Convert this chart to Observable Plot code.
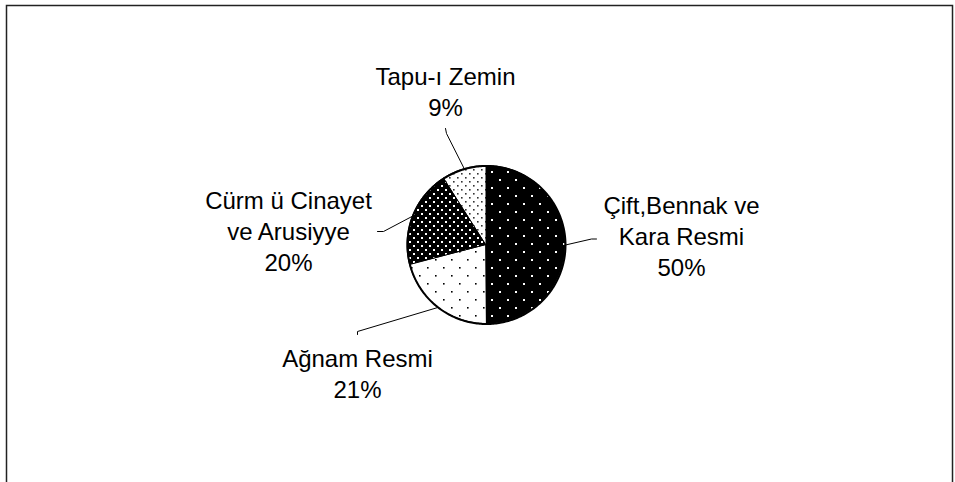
<!DOCTYPE html>
<html><head><meta charset="utf-8">
<script src="https://cdn.jsdelivr.net/npm/d3@7"></script>
<script src="https://cdn.jsdelivr.net/npm/@observablehq/plot@0.6"></script>
<style>body{margin:0;background:#fff}</style>
</head><body><div id="chart"></div>
<script>
// ---- data ----
const categories = ["Çift,Bennak ve\nKara Resmi", "Ağnam Resmi", "Cürm ü Cinayet\nve Arusiyye", "Tapu-ı Zemin"];
const values = [50, 21, 20, 9];
const percentLabels = ["50%", "21%", "20%", "9%"];

// ---- layout ----
const W = 955, H = 482, CX = 486, CY = 244.5, R = 79;
const fills = ["url(#pCift)", "url(#pAgnam)", "url(#pCurm)", "url(#pTapu)"];
const labelAnchor = [[195, 30.5], [-129, 152.5], [-198, 25.5], [-41, -129.5]];
const leaderKnee = [[105, -6], [-129, 86.5], [-103, -13.5], [-40, -111.5]];
const leaderEnd = [[110, -6], [-129, 89.5], [-109, -13.5], [-41, -116.5]];

const arcs = d3.pie().sort(null).value(d => d)(values);

const wedgePts = [];
arcs.forEach((a, i) => {
  const n = Math.max(2, Math.ceil((a.endAngle - a.startAngle) / 0.01) + 1);
  for (let k = 0; k < n; k++) {
    const t = a.startAngle + (a.endAngle - a.startAngle) * k / (n - 1);
    wedgePts.push({i, x: Math.sin(t), y: -Math.cos(t), fill: fills[i]});
  }
});
const circlePts = d3.range(0, 361).map(d => {
  const t = d * Math.PI / 180;
  return {x: Math.sin(t), y: -Math.cos(t)};
});
const leaderPts = [];
arcs.forEach((a, i) => {
  const m = (a.startAngle + a.endAngle) / 2;
  leaderPts.push({i, x: Math.sin(m), y: -Math.cos(m)});
  leaderPts.push({i, x: leaderKnee[i][0] / R, y: leaderKnee[i][1] / R});
  leaderPts.push({i, x: leaderEnd[i][0] / R, y: leaderEnd[i][1] / R});
});
const labels = categories.map((c, i) => ({
  text: c + "\n" + percentLabels[i],
  x: labelAnchor[i][0] / R,
  y: labelAnchor[i][1] / R
}));

const svg = Plot.plot({
  width: W, height: H,
  margin: 0,
  x: {domain: [-CX / R, (W - CX) / R], range: [0, W], axis: null},
  y: {domain: [-CY / R, (H - CY) / R], range: [0, H], axis: null},
  color: {type: "identity"},
  style: {background: "#fff"},
  marks: [
    Plot.frame({stroke: "#222", strokeWidth: 1.5, insetLeft: 6, insetTop: 5, insetRight: 3, insetBottom: -20}),
    Plot.area(wedgePts, {x1: () => 0, y1: () => 0, x2: "x", y2: "y", z: "i", fill: "fill", stroke: "black", strokeWidth: 1, curve: "linear"}),
    Plot.line(circlePts, {x: "x", y: "y", stroke: "black", strokeWidth: 2}),
    Plot.line(leaderPts, {x: "x", y: "y", z: "i", stroke: "black", strokeWidth: 1}),
    Plot.text(labels, {x: "x", y: "y", text: "text", textAnchor: "middle", lineAnchor: "bottom",
      lineHeight: 31 / 24, fontSize: 24, fontFamily: "Liberation Sans, Arial, sans-serif", fill: "black"})
  ]
});

// patterns
const defs = d3.select(svg).insert("defs", ":first-child");
function pattern(id, size, bg, color, dot, pts) {
  const p = defs.append("pattern").attr("id", id).attr("patternUnits", "userSpaceOnUse")
    .attr("width", size).attr("height", size);
  p.append("rect").attr("width", size).attr("height", size).attr("fill", bg);
  pts.forEach(([x, y]) => p.append("rect").attr("x", x).attr("y", y).attr("width", dot).attr("height", dot).attr("fill", color));
}
pattern("pCift", 16, "#000", "#fff", 2, [[3, 3], [11, 11]]);
pattern("pAgnam", 16, "#fff", "#000", 1.6, [[3, 3], [11, 11]]);
pattern("pCurm", 8, "#000", "#fff", 2, [[1, 1], [5, 5]]);
pattern("pTapu", 8, "#fff", "#333", 1.6, [[1, 1], [5, 5]]);

document.getElementById("chart").appendChild(svg);
</script>
</body></html>
